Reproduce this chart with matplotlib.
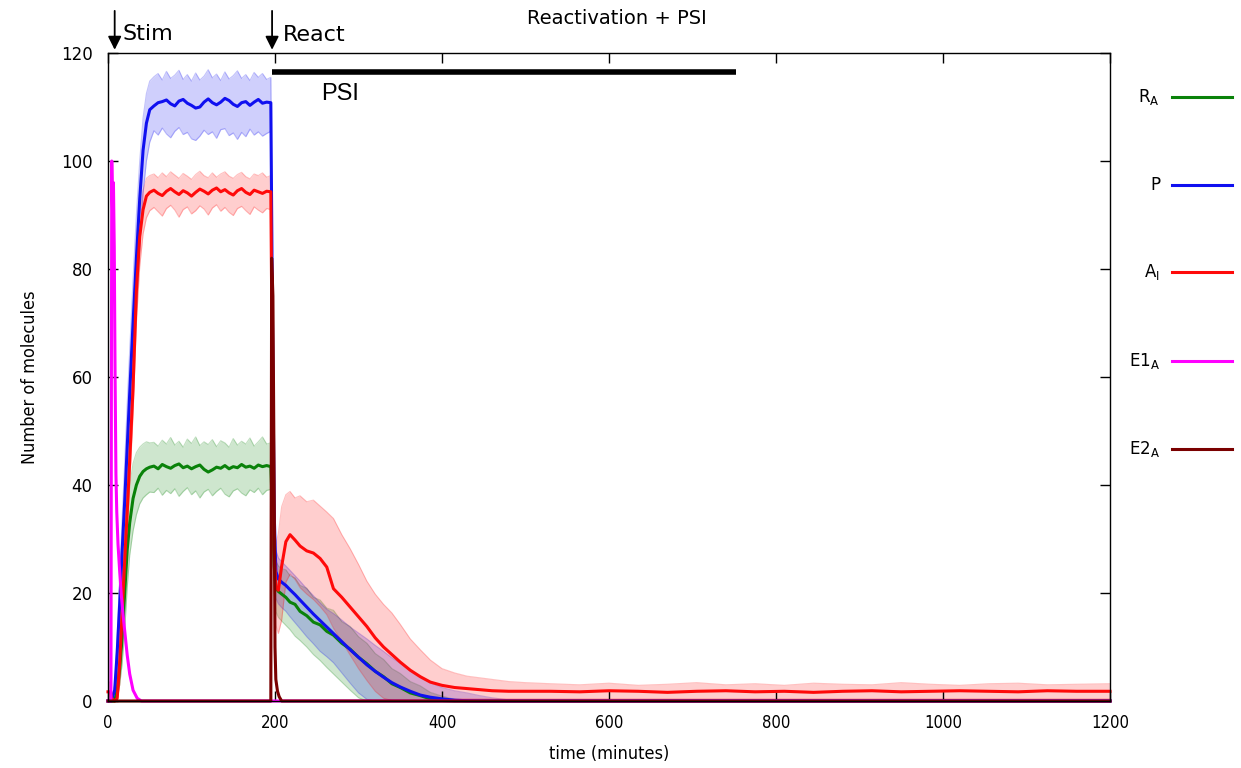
import numpy as np
import matplotlib.pyplot as plt
from matplotlib.lines import Line2D

# ---------------------------------------------------------------------------
# data (time in minutes, number of molecules)
# ---------------------------------------------------------------------------
t_stim = [0, 3, 4, 8, 11, 14, 17, 20, 23, 26, 30, 34, 38, 42, 46, 50]
t_plateau = [55, 60, 65, 70, 75, 80, 85, 90, 95, 100, 105, 110, 115, 120,
             125, 130, 135, 140, 145, 150, 155, 160, 165, 170, 175, 180, 185, 190]
t_drop = [195, 197, 199, 201, 204, 208]
t_decay = [213, 218, 224, 230, 238, 246, 254, 262, 270, 280, 290, 300, 310, 320,
           330, 340, 350, 362, 374, 386, 400, 415, 430, 445, 460, 480, 500]
t_tail = [530, 565, 600, 635, 670, 705, 740, 775, 810, 845, 880, 915, 950, 985,
          1020, 1055, 1090, 1125, 1160, 1200]

# R_A (green)
RA_mean = ([0, 0, 0, 0, 2, 6, 12, 20, 28, 33, 37.5, 40, 41.6, 42.5, 43.0, 43.3]
           + [43.5, 43.0, 43.8, 43.4, 43.1, 43.6, 43.9, 43.2, 43.5, 43.0, 43.4, 43.7, 42.9, 42.4,
              42.8, 43.3, 43.1, 43.6, 43.0, 43.4, 43.2, 43.8, 43.3, 43.5, 43.1, 43.7, 43.4, 43.6]
           + [43.4, 35, 25, 21, 20.3, 19.8]
           + [19.2, 18.3, 17.9, 16.6, 15.8, 14.6, 14.1, 12.9, 12.2, 10.7, 9.6, 8.1, 6.9, 5.5,
              4.5, 3.2, 2.5, 1.5, 1.0, 0.4, 0.1, 0, 0, 0, 0, 0, 0]
           + [0, 0, 0, 0, 0, 0, 0, 0, 0, 0, 0, 0, 0, 0, 0, 0, 0, 0, 0, 0])
RA_hi = ([0, 0, 0, 0.5, 4, 10, 18, 27, 35, 40, 44, 46, 47, 47.6, 48.0, 47.8]
         + [47.9, 47.2, 48.3, 47.6, 48.8, 47.4, 48.1, 47.0, 48.5, 47.7, 48.9, 47.3, 48.0, 47.5,
            48.4, 47.1, 48.2, 47.8, 47.0, 48.6, 47.4, 48.1, 47.6, 48.7, 47.2, 48.0, 48.9, 47.6]
         + [47.8, 40, 30, 26, 25, 24.5]
         + [24.3, 23.2, 22.8, 21.4, 20.9, 19.2, 18.7, 17.2, 16.8, 14.7, 13.8, 11.9, 10.7, 8.8,
            7.7, 6.0, 5.1, 3.6, 2.8, 1.6, 0.9, 0.3, 0, 0, 0, 0, 0]
         + [0, 0, 0, 0, 0, 0, 0, 0, 0, 0, 0, 0, 0, 0, 0, 0, 0, 0, 0, 0])
RA_lo = ([0, 0, 0, 0, 0.5, 3, 7, 13, 21, 27, 31.5, 34.5, 36.5, 37.6, 38.2, 38.7]
         + [38.6, 39.4, 38.1, 39.0, 38.4, 39.3, 37.9, 38.8, 39.5, 38.2, 38.9, 37.6, 38.7, 39.2,
            38.0, 38.8, 39.4, 38.3, 37.8, 38.9, 39.3, 38.5, 38.0, 39.1, 38.6, 39.4, 38.2, 39.0]
         + [39.2, 30, 20, 16.5, 15.5, 14.8]
         + [14.0, 13.2, 12.0, 11.2, 10.0, 8.6, 7.5, 6.2, 5.0, 3.5, 2.0, 0.6, 0, 0,
            0, 0, 0, 0, 0, 0, 0, 0, 0, 0, 0, 0, 0]
         + [0, 0, 0, 0, 0, 0, 0, 0, 0, 0, 0, 0, 0, 0, 0, 0, 0, 0, 0, 0])

# P (blue)
P_mean = ([0, 0, 0, 2, 9, 18, 28, 37, 47, 57, 70, 82, 93, 102, 107, 109.5]
          + [110.2, 110.8, 111.0, 111.3, 110.6, 110.2, 111.1, 111.4, 110.7, 110.3, 109.8, 110.0, 110.9, 111.5,
             110.8, 110.4, 110.9, 111.6, 111.2, 110.5, 110.1, 110.8, 111.0, 110.3, 110.9, 111.4, 110.7, 110.9]
          + [110.8, 70, 35, 24, 22.6, 22.0]
          + [21.4, 20.6, 19.7, 18.7, 17.4, 16.1, 14.9, 13.7, 12.5, 11.0, 9.5, 8.1, 6.7, 5.5,
             4.4, 3.4, 2.6, 1.8, 1.1, 0.7, 0.4, 0.15, 0.05, 0, 0, 0, 0]
          + [0, 0, 0, 0, 0, 0, 0, 0, 0, 0, 0, 0, 0, 0, 0, 0, 0, 0, 0, 0])
P_hi = ([0, 0, 0, 3, 12, 23, 34, 44, 55, 65, 78, 90, 100, 108, 112.5, 114.8]
        + [115.6, 116.2, 115.0, 116.6, 115.3, 115.9, 116.8, 115.1, 116.0, 114.8, 116.3, 115.0, 115.7, 116.9,
           115.4, 116.1, 114.9, 116.5, 115.2, 115.8, 116.7, 115.3, 116.0, 114.9, 116.4, 115.5, 116.2, 115.1]
        + [115.5, 76, 40, 28, 26.5, 25.8]
        + [25.0, 24.2, 23.2, 22.2, 20.8, 19.5, 18.2, 17.0, 16.2, 15.0, 13.7, 12.6, 11.5, 10.3,
           9.2, 8.0, 7.0, 5.6, 4.4, 3.4, 2.5, 1.9, 1.5, 1.0, 0.6, 0.2, 0]
        + [0, 0, 0, 0, 0, 0, 0, 0, 0, 0, 0, 0, 0, 0, 0, 0, 0, 0, 0, 0])
P_lo = ([0, 0, 0, 0.5, 5, 13, 22, 31, 40, 49, 61, 72, 84, 94, 100, 103.5]
        + [105.6, 104.8, 106.1, 105.0, 104.3, 105.5, 106.2, 104.9, 105.3, 104.1, 103.8, 104.6, 105.7, 104.9,
           105.4, 104.2, 105.8, 106.0, 104.7, 105.2, 104.0, 105.3, 104.5, 105.9, 104.8, 105.4, 104.6, 105.1]
        + [105.5, 64, 30, 19, 18, 17.3]
        + [16.6, 15.6, 14.5, 13.4, 11.9, 10.6, 9.2, 8.2, 7.1, 5.2, 3.3, 1.5, 0.3, 0,
           0, 0, 0, 0, 0, 0, 0, 0, 0, 0, 0, 0, 0]
        + [0, 0, 0, 0, 0, 0, 0, 0, 0, 0, 0, 0, 0, 0, 0, 0, 0, 0, 0, 0])

# A_I (red)
AI_mean = ([1.7, 1.7, 0.5, 0, 0.5, 7, 16.5, 26, 35, 44.5, 58, 76, 86, 91, 93.5, 94.2]
           + [94.6, 94.0, 93.6, 94.4, 94.9, 94.3, 93.8, 94.5, 94.1, 93.5, 94.2, 94.8, 94.4, 93.9,
              94.6, 95.0, 94.3, 94.7, 94.1, 93.7, 94.5, 94.9, 94.2, 93.8, 94.6, 94.3, 94.0, 94.4]
           + [94.3, 55, 28, 21, 20.5, 25]
           + [29.5, 30.8, 29.8, 28.7, 27.8, 27.4, 26.4, 24.8, 20.8, 19.2, 17.4, 15.6, 13.8, 11.7,
              10.0, 8.6, 7.2, 5.7, 4.5, 3.5, 2.9, 2.5, 2.3, 2.1, 1.9, 1.8, 1.8]
           + [1.8, 1.7, 1.9, 1.8, 1.6, 1.8, 1.9, 1.7, 1.8, 1.6, 1.8, 1.9, 1.7, 1.8, 1.9, 1.8, 1.7, 1.9, 1.8, 1.8])
AI_hi = ([3.5, 3.5, 2, 0.5, 1.5, 10, 20, 31, 41, 50, 64, 80, 89.5, 94.5, 96.8, 97.3]
         + [97.6, 96.9, 97.8, 97.1, 98.0, 97.4, 96.8, 97.7, 97.2, 96.6, 97.5, 98.1, 97.3, 96.9,
            97.8, 97.0, 97.6, 98.0, 97.2, 96.8, 97.5, 97.9, 97.1, 96.7, 97.6, 97.3, 97.8, 97.0]
         + [97.3, 62, 35, 29, 31, 36]
         + [38.2, 38.8, 37.6, 38.0, 36.9, 37.2, 36.1, 35.0, 33.8, 30.8, 28.2, 25.3, 22.2, 19.8,
            17.9, 16.3, 14.2, 11.5, 9.5, 7.6, 6.0, 5.2, 4.6, 4.3, 4.0, 3.6, 3.4]
         + [3.2, 3.0, 3.3, 2.9, 3.1, 3.4, 3.0, 3.2, 2.9, 3.3, 3.1, 3.0, 3.4, 3.1, 2.9, 3.2, 3.3, 3.0, 3.1, 3.2])
AI_lo = ([0.3, 0.3, 0, 0, 0, 3, 12, 22, 32, 40, 53, 70, 80.5, 86.5, 89.5, 90.8]
         + [91.4, 90.6, 89.8, 91.2, 91.8, 90.9, 89.6, 91.0, 91.5, 90.2, 90.8, 91.7, 91.1, 90.0,
            91.3, 91.9, 90.7, 91.4, 90.5, 89.9, 91.2, 91.6, 90.8, 90.1, 91.5, 90.9, 90.4, 91.2]
         + [91.0, 48, 21, 14, 12.5, 15]
         + [22.0, 23.5, 22.5, 21.0, 19.8, 18.8, 17.5, 16.0, 13.5, 11.0, 8.5, 6.0, 3.8, 1.8,
            0.5, 0.1, 0, 0, 0, 0.2, 0.3, 0.4, 0.4, 0.4, 0.4, 0.4, 0.4]
         + [0.4, 0.4, 0.4, 0.4, 0.4, 0.4, 0.4, 0.4, 0.4, 0.4, 0.4, 0.4, 0.4, 0.4, 0.4, 0.4, 0.4, 0.4, 0.4, 0.4])

# E1_A (magenta) and E2_A (dark red) pulses
t_E1 = [0, 3.5, 4.5, 5.5, 6.5, 7.5, 8.5, 9.5, 10.5, 12, 14, 16, 18, 20, 23, 26, 30, 35, 40, 1200]
E1_mean = [0, 0, 100, 90, 96, 84, 60, 42, 35, 29, 24, 19.5, 16, 13, 8.5, 5, 2, 0.5, 0, 0]
t_E2 = [0, 195, 196, 197.5, 199, 200, 201, 203, 205, 208, 1200]
E2_mean = [0, 0, 82, 75, 40, 10, 4, 1.8, 0.8, 0, 0]

t_all = np.array(t_stim + t_plateau + t_drop + t_decay + t_tail)

c_green = '#0a820a'
c_blue = '#1010f0'
c_red = '#ff0a0a'
c_mag = '#ff00ff'
c_dred = '#7a0000'

fig = plt.figure(figsize=(12.41, 7.68), dpi=100)
ax = fig.add_axes([108 / 1241, 1 - 701 / 768, (1110 - 108) / 1241, (701 - 53) / 768])

# shaded spread bands
for lo, hi, col in [(RA_lo, RA_hi, c_green), (P_lo, P_hi, c_blue), (AI_lo, AI_hi, c_red)]:
    ax.fill_between(t_all, lo, hi, color=col, alpha=0.2, lw=0, zorder=1)
    ax.plot(t_all, lo, color=col, alpha=0.25, lw=0.8, zorder=1)
    ax.plot(t_all, hi, color=col, alpha=0.25, lw=0.8, zorder=1)

# mean lines
ax.plot(t_all, RA_mean, color=c_green, lw=2.2, zorder=3, clip_on=False)
ax.plot(t_all, P_mean, color=c_blue, lw=2.2, zorder=3, clip_on=False)
ax.plot(t_all, AI_mean, color=c_red, lw=2.2, zorder=3, clip_on=False)
ax.plot(t_E1, E1_mean, color=c_mag, lw=2.2, zorder=4, clip_on=False)
ax.plot(t_E2, E2_mean, color=c_dred, lw=2.2, zorder=5, clip_on=False)

ax.set_xlim(0, 1200)
ax.set_ylim(0, 120)
ax.set_xticks([0, 200, 400, 600, 800, 1000, 1200])
ax.set_yticks([0, 20, 40, 60, 80, 100, 120])
ax.tick_params(direction='in', top=True, right=True, length=7, width=1, colors='black')
ax.tick_params(axis='y', labelsize=12, pad=11)
ax.tick_params(axis='x', labelsize=12, pad=9)
for lab in ax.get_xticklabels():
    lab.set_fontstretch('condensed')
for s in ax.spines.values():
    s.set_linewidth(1.0)
    s.set_zorder(6)

ax.set_xlabel('time (minutes)', fontsize=13, fontstretch='condensed', labelpad=10)
ax.set_ylabel('Number of molecules', fontsize=13, fontstretch='condensed', labelpad=16)

# annotations above the plot
arrow = dict(arrowstyle='-|>', color='black', lw=1.3, mutation_scale=20, shrinkA=0, shrinkB=0)
ax.annotate('', xy=(8, 120.6), xytext=(8, 127.8), arrowprops=arrow, annotation_clip=False)
ax.annotate('', xy=(196.5, 120.6), xytext=(196.5, 127.8), arrowprops=arrow, annotation_clip=False)
ax.text(17, 123.6, 'Stim', fontsize=16, ha='left', va='center', clip_on=False)
ax.text(209, 123.4, 'React', fontsize=16, ha='left', va='center', clip_on=False)
fig.text(617 / 1241, 1 - 19 / 768, 'Reactivation + PSI', fontsize=14, ha='center', va='center')

# PSI treatment bar
ax.plot([196, 752], [116.5, 116.5], color='black', lw=4, solid_capstyle='butt', zorder=6)
ax.text(278, 112.5, 'PSI', fontsize=17, family='Liberation Sans', ha='center', va='center')

# legend at the right, outside the axes
legend_items = [(r'R$_{\rm A}$', c_green, 97), ('P', c_blue, 185), (r'A$_{\rm I}$', c_red, 272),
                (r'E1$_{\rm A}$', c_mag, 361), (r'E2$_{\rm A}$', c_dred, 449)]
for label, col, ypx in legend_items:
    fy = 1 - ypx / 768
    fig.text(1160 / 1241, fy, label, fontsize=12, ha='right', va='center')
    fig.add_artist(Line2D([1172 / 1241, 1232 / 1241], [fy, fy], color=col, lw=2.2,
                          transform=fig.transFigure))

fig.savefig('out.png', dpi=100)
